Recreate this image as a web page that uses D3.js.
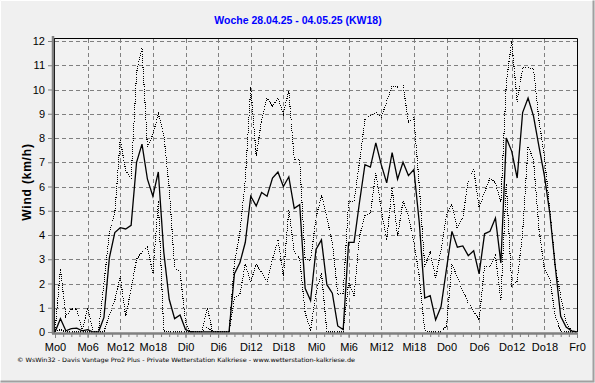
<!DOCTYPE html>
<html><head><meta charset="utf-8">
<script src="https://cdn.jsdelivr.net/npm/d3@7"></script>
<style>body{margin:0;background:#F0F0F0}svg{display:block}</style>
</head><body>
<script>
const titleText = "Woche 28.04.25 - 04.05.25 (KW18)";
const yTitle = "Wind  (km/h)";
const footer = "\u00A9 WsWin32  -  Davis Vantage Pro2 Plus  -  Private Wetterstation Kalkriese - www.wetterstation-kalkriese.de";
const xTickLabels = ["Mo0","Mo6","Mo12","Mo18","Di0","Di6","Di12","Di18","Mi0","Mi6","Mi12","Mi18","Do0","Do6","Do12","Do18","Fr0"];
const yTicks = [0,1,2,3,4,5,6,7,8,9,10,11,12];
// hourly values, hour 0..96
const windMax = [0,2.6,0.65,0.95,0.95,0.05,1.0,0.05,0,2.0,4.1,4.9,7.95,6.65,6.35,10.7,11.7,7.6,8.15,9.0,8.15,5.95,2.6,2.5,0.4,
  0,0,0,1.0,0,0,0,0,2.85,4.1,6.3,10.1,7.25,8.75,9.65,9.3,9.65,9.0,9.95,7.1,7.1,3.0,2.95,
  4.7,5.65,4.7,3.7,1.55,1.6,5.4,5.4,7.0,8.75,8.95,9.05,8.85,9.5,10.15,10.1,10.2,8.65,8.85,6.0,2.7,3.3,2.2,3.4,
  4.85,5.25,4.25,4.7,6.25,6.7,5.15,5.75,6.35,6.15,5.35,10.3,12.0,9.5,10.9,10.9,10.85,8.75,7.25,5.05,2.7,1.5,0.4,0.05,0];
const windMean = [0,0.55,0.05,0.14,0.16,0.05,0.1,0,0,0.6,3.06,4.1,4.3,4.25,4.4,7.0,7.75,6.3,5.6,6.6,3.3,1.35,0.55,0.7,0.1,
  0,0,0,0,0,0,0,0,2.4,2.85,3.7,5.6,5.2,5.75,5.6,6.35,6.6,6.0,6.4,5.1,5.25,1.8,1.3,
  3.4,3.8,1.95,1.6,0.25,0.1,3.7,3.7,5.35,6.9,6.8,7.8,6.9,6.15,7.4,6.3,7.0,6.45,6.7,4.5,1.4,1.5,0.5,1.05,
  2.6,4.15,3.5,3.55,3.15,3.35,2.4,4.05,4.15,4.7,2.85,8.0,7.45,6.35,9.05,9.65,8.9,7.65,6.45,4.9,2.7,0.65,0.2,0.05,0];
const windMin = [0,0.1,0,0,0,0,0,0,0,0,0.7,1.3,2.3,0.65,1.8,3.0,3.3,3.5,2.4,5.4,0.05,0,0,0,0,
  0,0,0,0.2,0,0,0,0,1.4,1.55,2.8,2.05,2.8,2.45,2.1,3.0,3.8,2.3,5.05,3.3,3.05,0.8,0.05,
  1.6,2.45,0,0,0,0,2.05,1.5,3.95,4.8,4.9,6.55,5.05,3.8,5.95,3.95,5.4,4.8,3.7,2.3,0.05,0,0,0,
  0.25,2.8,2.25,1.7,1.2,0.85,0.5,2.7,2.7,3.15,1.3,6.15,1.9,2.1,4.1,7.65,7.1,4.25,2.6,2.2,0.65,0.05,0,0,0];

const W = 595, H = 383;
const svg = d3.select("body").append("svg").attr("width", W).attr("height", H);
svg.append("rect").attr("width", W).attr("height", H).attr("fill", "#F0F0F0");
// outer frame
svg.append("path").attr("d", `M0.5,${H-1.5} V0.5 H${W-1.5}`).attr("stroke", "#ffffff").attr("fill", "none");
svg.append("path").attr("d", `M${W-1.5},0.5 V${H-1.5} H0.5`).attr("stroke", "#a0a0a0").attr("fill", "none").attr("stroke-width", 2);

const x = d3.scaleLinear().domain([0, 96]).range([55, 577]);
const y = d3.scaleLinear().domain([0, 12]).range([332, 41]);
const font = "Arial, 'Liberation Sans', sans-serif";

svg.append("rect").attr("x", 54).attr("y", 38).attr("width", 523).attr("height", 294).attr("fill", "#F2F2F2");

// grid
const g = svg.append("g").attr("stroke", "#808080").attr("stroke-dasharray", "4,3").attr("stroke-width", 1).attr("shape-rendering", "crispEdges");
yTicks.filter(v => v > 0).forEach(v => g.append("line").attr("x1", 55).attr("x2", 577).attr("y1", Math.round(y(v)) + 0.5).attr("y2", Math.round(y(v)) + 0.5));
xTickLabels.forEach((t, i) => { if (i > 0 && i < 16) g.append("line").attr("x1", Math.round(x(i*6)) + 0.5).attr("x2", Math.round(x(i*6)) + 0.5).attr("y1", 39).attr("y2", 332); });

// frame top/right
svg.append("path").attr("d", "M54,38.5 H577.5 V332").attr("stroke", "#000").attr("fill", "none");
svg.append("line").attr("x1", 54.5).attr("x2", 54.5).attr("y1", 38).attr("y2", 333).attr("stroke", "#000");

// lines
const line = d3.line().x((d, i) => x(i)).y(d => y(d));
[windMin, windMax].forEach(s => {
  svg.append("path").datum(s).attr("d", line).attr("fill", "none").attr("stroke", "#000")
    .attr("stroke-width", 1.1).attr("stroke-dasharray", "1,1.2").attr("shape-rendering", "crispEdges");
});
svg.append("path").datum(windMean).attr("d", line).attr("fill", "none").attr("stroke", "#000").attr("stroke-width", 1.3);

// axes
svg.append("line").attr("x1", 53).attr("x2", 53).attr("y1", 36).attr("y2", 334).attr("stroke", "#808080").attr("stroke-width", 2.5);
svg.append("line").attr("x1", 52).attr("x2", 578).attr("y1", 333.5).attr("y2", 333.5).attr("stroke", "#808080").attr("stroke-width", 2.5);

const yAxis = d3.axisLeft(y).tickValues(yTicks).tickSize(4).tickPadding(3);
const ya = svg.append("g").attr("transform", "translate(52,0)").call(yAxis);
ya.select(".domain").remove();
ya.selectAll("line").attr("stroke", "#808080");
ya.selectAll("text").attr("font-family", font).attr("font-size", 11).attr("fill", "#000");

const xAxisMinor = d3.axisBottom(x).tickValues(d3.range(0, 97, 1.5)).tickSize(3).tickFormat("");
const xm = svg.append("g").attr("transform", "translate(0,334)").call(xAxisMinor);
xm.select(".domain").remove();
xm.selectAll("line").attr("stroke", "#808080");

const xAxis = d3.axisBottom(x).tickValues(d3.range(0, 97, 6)).tickSize(4).tickPadding(5).tickFormat((d, i) => xTickLabels[i]);
const xa = svg.append("g").attr("transform", "translate(0,334)").call(xAxis);
xa.select(".domain").remove();
xa.selectAll("line").attr("stroke", "#808080");
xa.selectAll("text").attr("font-family", font).attr("font-size", 11).attr("fill", "#000");

// titles
svg.append("text").attr("x", 298).attr("y", 24).attr("text-anchor", "middle").attr("font-family", font).attr("font-weight", "bold").attr("font-size", 10.5).attr("fill", "#0000FF").text(titleText);
svg.append("text").attr("transform", "translate(31,182) rotate(-90)").attr("text-anchor", "middle").attr("font-family", font).attr("font-weight", "bold").attr("font-size", 12).attr("letter-spacing", 0.8).attr("fill", "#000").text(yTitle);
svg.append("text").attr("x", 17).attr("y", 362).attr("font-family", "'DejaVu Sans', sans-serif").attr("font-size", 6).attr("fill", "#000").attr("textLength", 338).attr("lengthAdjust", "spacingAndGlyphs").text(footer);
</script>
</body></html>
